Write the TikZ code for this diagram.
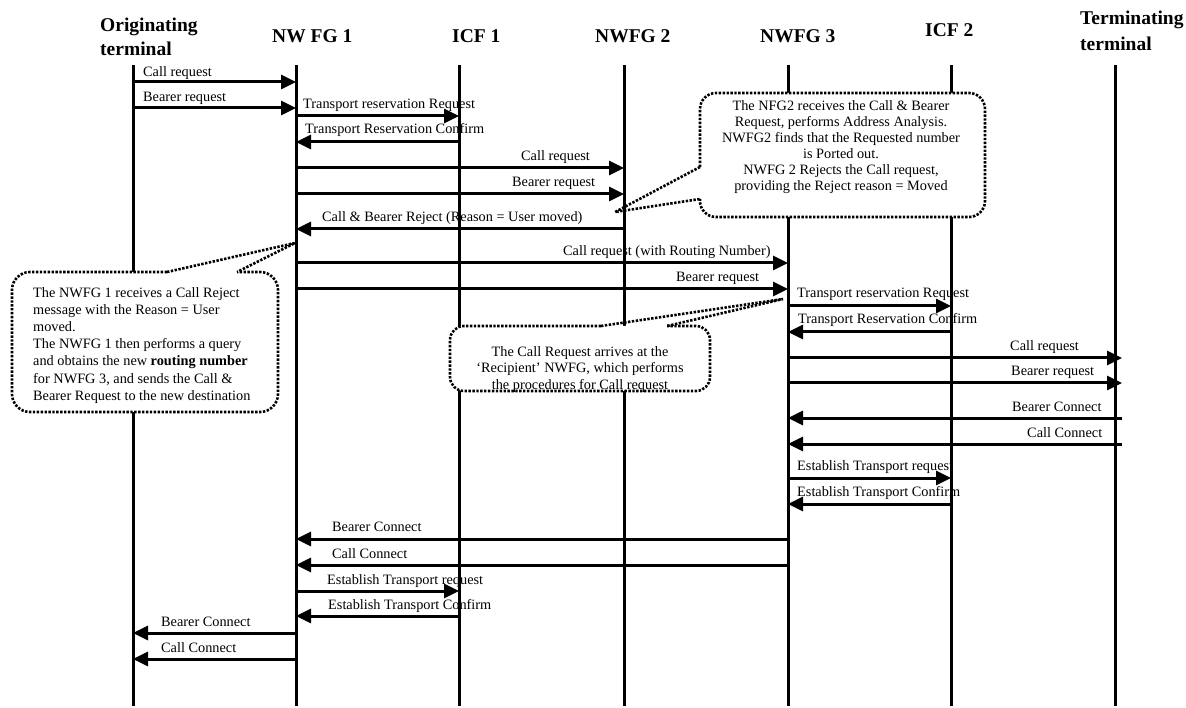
\documentclass[tikz,border=0pt]{standalone}
\usepackage{fontspec}
\setmainfont{Liberation Serif}
\usetikzlibrary{arrows.meta}

\begin{document}
\begin{tikzpicture}[x=1pt,y=-1pt,
  lifeline/.style={line width=3pt},
  msg/.style={line width=3pt,-{Triangle[length=15pt,width=14pt]}},
  lbl/.style={inner sep=0pt,anchor=base west,font=\fontsize{14.3}{16}\selectfont},
  head/.style={inner sep=0pt,anchor=base west,font=\fontsize{19.5}{22}\selectfont\bfseries},
  note/.style={line width=2.6pt,dash pattern=on 2.4pt off 1.5pt},
  notefill/.style={fill=white},
  notetext/.style={inner sep=0pt}
]
\useasboundingbox (0,0) rectangle (1186,708);

% ---- column headings ----
\node[head] (hOT1) at (100,32) {Originating};
\node[head] (hOT2) at (100,56) {terminal};
\node[head] (hN1)  at (272,43) {NW FG 1};
\node[head] (hI1)  at (452,43) {ICF 1};
\node[head] (hN2)  at (595,43) {NWFG 2};
\node[head] (hN3)  at (760,43) {NWFG 3};
\node[head] (hI2)  at (925,37) {ICF 2};
\node[head] (hTT1) at (1080,25) {Terminating};
\node[head] (hTT2) at (1080,51) {terminal};

% ---- lifelines ----
\coordinate (OT) at (133,65);
\coordinate (N1) at (296,65);
\coordinate (I1) at (459,65);
\coordinate (N2) at (624,65);
\coordinate (N3) at (788,65);
\coordinate (I2) at (951,65);
\coordinate (TT) at (1115,65);
\coordinate (TX) at (1122,65); % message end point at the terminating side
\foreach \l in {OT,N1,I1,N2,N3,I2,TT}
  \draw[lifeline] (\l) -- (\l |- 0,706);

% ---- notes (white fill hides the lifelines behind them) ----
% note at NWFG 2
\fill[notefill,rounded corners=16] (700,93) rectangle (985,217);
\draw[note,rounded corners=16] (700,167) -- (700,93) -- (985,93) -- (985,217) -- (700,217) -- (700,199);
\draw[note] (700,167) -- (615,212) -- (700,199);
\node[notetext,anchor=north,align=center,font=\fontsize{14.3}{16}\selectfont] (note1) at (841,100.5)
  {The NFG2 receives the Call \& Bearer\\
   Request, performs Address Analysis.\\
   NWFG2 finds that the Requested number\\
   is Ported out.\\
   NWFG 2 Rejects the Call request,\\
   providing the Reject reason = Moved};

% note at NW FG 1
\fill[notefill,rounded corners=18] (12,272) rectangle (278,412);
\draw[note,rounded corners=18] (167,272) -- (12,272) -- (12,412) -- (278,412) -- (278,272) -- (237,272);
\draw[note] (167,272) -- (295,243) -- (237,272);
\node[notetext,anchor=north west,align=left,font=\fontsize{14.3}{17.2}\selectfont] (note2) at (33,287)
  {The NWFG 1 receives a Call Reject\\
   message with the Reason = User\\
   moved.\\
   The NWFG 1 then performs a query\\
   and obtains the new \textbf{routing number}\\
   for NWFG 3, and sends the Call \&\\
   Bearer Request to the new destination};

% note at the recipient NWFG
\fill[notefill,rounded corners=14] (450,326) rectangle (710,391);
\draw[note,rounded corners=14] (601,326) -- (450,326) -- (450,391) -- (710,391) -- (710,326) -- (667,326);
\draw[note] (601,326) -- (783,299) -- (667,326);
\node[notetext,anchor=north,align=center,font=\fontsize{14.3}{16.6}\selectfont] (note3) at (580,346)
  {The Call Request arrives at the\\
   ‘Recipient’ NWFG, which performs\\
   the procedures for Call request};

% ---- messages ----
\draw[msg] (OT |- 0,82)  -- (N1 |- 0,82);
\node[lbl] (m1) at (143,77) {Call request};
\draw[msg] (OT |- 0,108) -- (N1 |- 0,108);
\node[lbl] (m2) at (143,102) {Bearer request};
\draw[msg] (N1 |- 0,116) -- (I1 |- 0,116);
\node[lbl] (m3) at (303,109) {Transport reservation Request};
\draw[msg] (I1 |- 0,142) -- (N1 |- 0,142);
\node[lbl] (m4) at (305,134) {Transport Reservation Confirm};
\draw[msg] (N1 |- 0,168) -- (N2 |- 0,168);
\node[lbl] (m5) at (521,161) {Call request};
\draw[msg] (N1 |- 0,194) -- (N2 |- 0,194);
\node[lbl] (m6) at (512,187) {Bearer request};
\draw[msg] (N2 |- 0,229) -- (N1 |- 0,229);
\node[lbl] (m7) at (322,222) {Call \& Bearer Reject (Reason = User moved)};
\draw[msg] (N1 |- 0,263) -- (N3 |- 0,263);
\node[lbl] (m8) at (563,256) {Call request (with Routing Number)};
\draw[msg] (N1 |- 0,289) -- (N3 |- 0,289);
\node[lbl] (m9) at (676,282) {Bearer request};
\draw[msg] (N3 |- 0,306) -- (I2 |- 0,306);
\node[lbl] (m10) at (797,298) {Transport reservation Request};
\draw[msg] (I2 |- 0,332) -- (N3 |- 0,332);
\node[lbl] (m11) at (798,324) {Transport Reservation Confirm};
\draw[msg] (N3 |- 0,358) -- (TX |- 0,358);
\node[lbl] (m12) at (1010,351) {Call request};
\draw[msg] (N3 |- 0,383) -- (TX |- 0,383);
\node[lbl] (m13) at (1011,376) {Bearer request};
\draw[msg] (TX |- 0,418) -- (N3 |- 0,418);
\node[lbl] (m14) at (1012,411) {Bearer Connect};
\draw[msg] (TX |- 0,444) -- (N3 |- 0,444);
\node[lbl] (m15) at (1027,437) {Call Connect};
\draw[msg] (N3 |- 0,478) -- (I2 |- 0,478);
\node[lbl] (m16) at (797,470) {Establish Transport request};
\draw[msg] (I2 |- 0,504) -- (N3 |- 0,504);
\node[lbl] (m17) at (797,496) {Establish Transport Confirm};
\draw[msg] (N3 |- 0,539) -- (N1 |- 0,539);
\node[lbl] (m18) at (332,531) {Bearer Connect};
\draw[msg] (N3 |- 0,565) -- (N1 |- 0,565);
\node[lbl] (m19) at (332,558) {Call Connect};
\draw[msg] (N1 |- 0,591) -- (I1 |- 0,591);
\node[lbl] (m20) at (327,584) {Establish Transport request};
\draw[msg] (I1 |- 0,616) -- (N1 |- 0,616);
\node[lbl] (m21) at (328,609) {Establish Transport Confirm};
\draw[msg] (N1 |- 0,633) -- (OT |- 0,633);
\node[lbl] (m22) at (161,626) {Bearer Connect};
\draw[msg] (N1 |- 0,659) -- (OT |- 0,659);
\node[lbl] (m23) at (161,652) {Call Connect};
\end{tikzpicture}
\end{document}
